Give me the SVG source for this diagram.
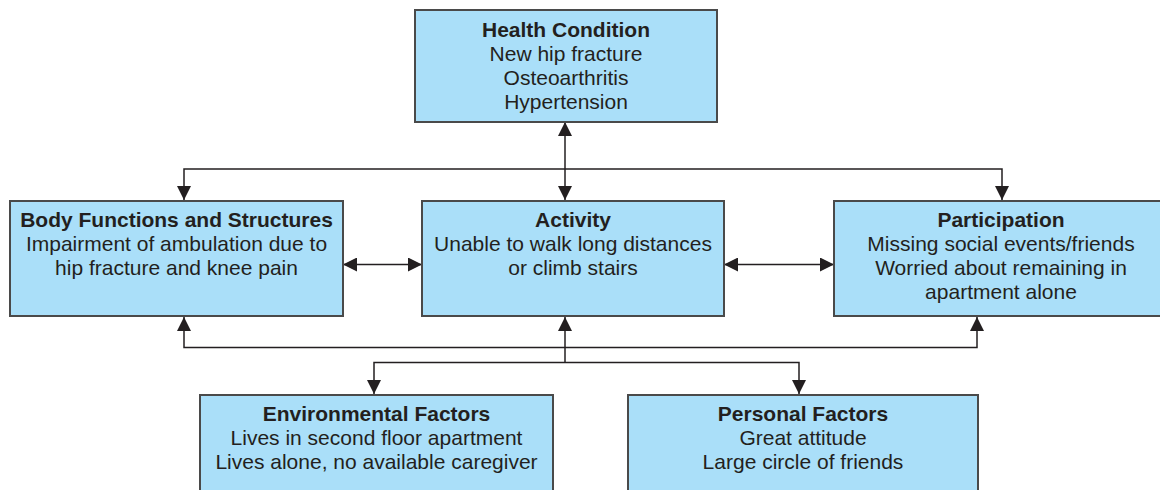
<svg xmlns="http://www.w3.org/2000/svg" width="1160" height="490" viewBox="0 0 1160 490">
<style>
.box{fill:#aadff9;stroke:#4a4a4a;stroke-width:2}
.t{font-family:"Liberation Sans",Arial,sans-serif;font-size:21px;fill:#231f20;text-anchor:middle}
.b{font-weight:bold}
.c{fill:none;stroke:#231f20;stroke-width:1.5}
</style>
<defs>
<marker id="ah" viewBox="0 0 14 14" refX="14" refY="7" markerWidth="14" markerHeight="14" markerUnits="userSpaceOnUse" orient="auto-start-reverse">
<path d="M0,0 L14,7 L0,14 z" fill="#231f20"/>
</marker>
</defs>
<rect width="1160" height="490" fill="#ffffff"/>
<g id="connectors">
<line class="c" x1="565" y1="169" x2="565" y2="122" marker-end="url(#ah)"/>
<line class="c" x1="565" y1="169" x2="565" y2="200" marker-end="url(#ah)"/>
<polyline class="c" points="184,200 184,169 1002,169 1002,200" marker-start="url(#ah)" marker-end="url(#ah)"/>
<line class="c" x1="343" y1="264.5" x2="422" y2="264.5" marker-start="url(#ah)" marker-end="url(#ah)"/>
<line class="c" x1="724" y1="264.5" x2="834" y2="264.5" marker-start="url(#ah)" marker-end="url(#ah)"/>
<polyline class="c" points="184,317 184,347.5 977,347.5 977,317" marker-start="url(#ah)" marker-end="url(#ah)"/>
<line class="c" x1="565" y1="362.5" x2="565" y2="317" marker-end="url(#ah)"/>
<polyline class="c" points="374,394 374,362.5 799,362.5 799,394" marker-start="url(#ah)" marker-end="url(#ah)"/>
</g>
<g id="health">
<rect class="box" x="415" y="10" width="302" height="112"/>
<text class="t b" x="566" y="36.5">Health Condition</text>
<text class="t" x="566" y="60.5">New hip fracture</text>
<text class="t" x="566" y="84.5">Osteoarthritis</text>
<text class="t" x="566" y="108.5">Hypertension</text>
</g>
<g id="body">
<rect class="box" x="10" y="201" width="333" height="115"/>
<text class="t b" x="176.5" y="226.5">Body Functions and Structures</text>
<text class="t" x="176.5" y="250.5">Impairment of ambulation due to</text>
<text class="t" x="176.5" y="274.5">hip fracture and knee pain</text>
</g>
<g id="activity">
<rect class="box" x="422" y="201" width="302" height="115"/>
<text class="t b" x="573" y="226.5">Activity</text>
<text class="t" x="573" y="250.5">Unable to walk long distances</text>
<text class="t" x="573" y="274.5">or climb stairs</text>
</g>
<g id="participation">
<rect class="box" x="834" y="201" width="340" height="115"/>
<text class="t b" x="1001" y="226.5">Participation</text>
<text class="t" x="1001" y="250.5">Missing social events/friends</text>
<text class="t" x="1001" y="274.5">Worried about remaining in</text>
<text class="t" x="1001" y="298.5">apartment alone</text>
</g>
<g id="environmental">
<rect class="box" x="200" y="395" width="353" height="110"/>
<text class="t b" x="376.5" y="420.5">Environmental Factors</text>
<text class="t" x="376.5" y="444.5">Lives in second floor apartment</text>
<text class="t" x="376.5" y="468.5">Lives alone, no available caregiver</text>
</g>
<g id="personal">
<rect class="box" x="628" y="395" width="350" height="110"/>
<text class="t b" x="803" y="420.5">Personal Factors</text>
<text class="t" x="803" y="444.5">Great attitude</text>
<text class="t" x="803" y="468.5">Large circle of friends</text>
</g>
</svg>
